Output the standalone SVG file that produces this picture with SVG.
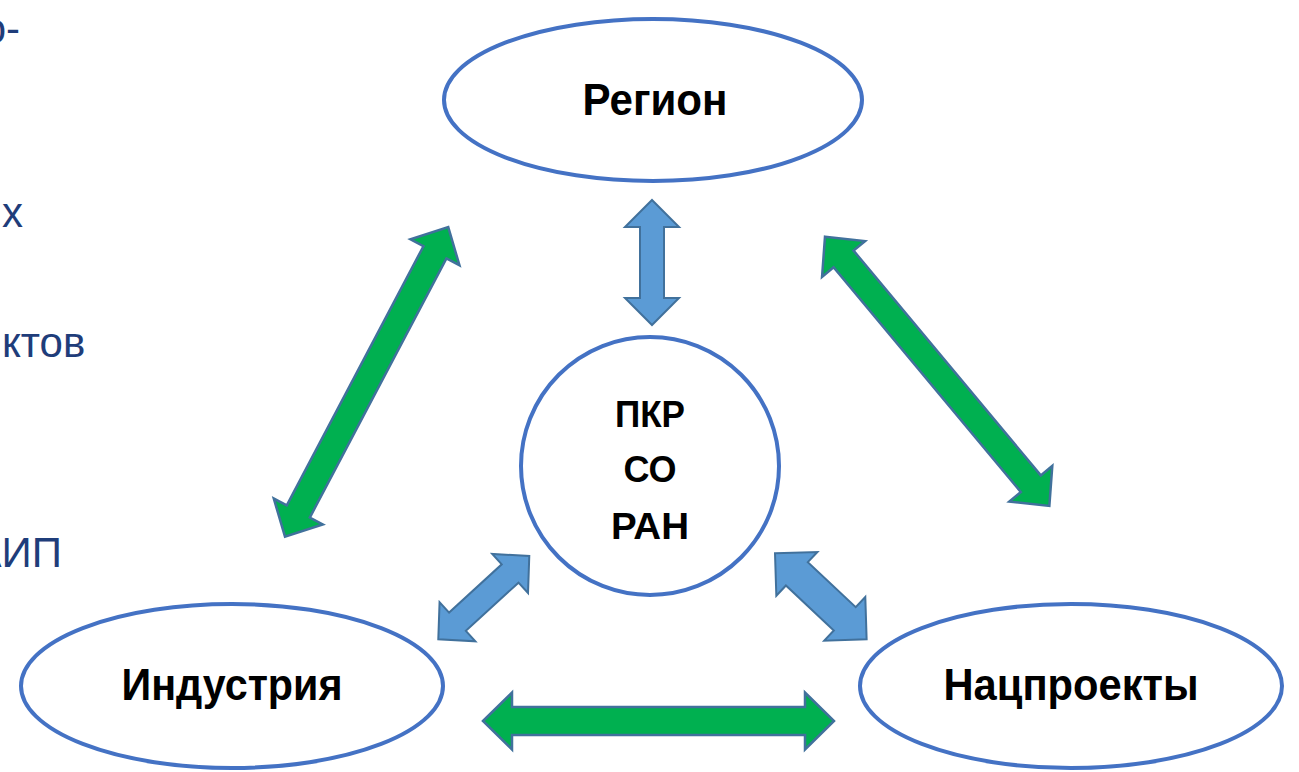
<svg xmlns="http://www.w3.org/2000/svg" width="1299" height="772" viewBox="0 0 1299 772">
<style>
.bg{fill:#ffffff}
.node{fill:#ffffff;stroke:#4472C4;stroke-width:4}
.lbl{font-family:"Liberation Sans",Arial,sans-serif;font-weight:bold;fill:#000000;text-anchor:middle}
.side{font-family:"Liberation Sans",Arial,sans-serif;fill:#1F3D7A;font-size:42px}
.g{fill:#00B050;stroke:#41719C;stroke-width:2.5;stroke-linejoin:miter}
.b{fill:#5B9BD5;stroke:#41719C;stroke-width:2;stroke-linejoin:miter}
</style>
<rect class="bg" x="0" y="0" width="1299" height="772"/>
<g id="side-text">
<text class="side" x="20" y="43" text-anchor="end">о-</text>
<text class="side" x="2" y="227">х</text>
<text class="side" x="2" y="357">ктов</text>
<text class="side" x="62" y="567" text-anchor="end">АИП</text>
</g>
<g id="connectors">
<path class="g" transform="translate(483,721)" d="M0,0 L29,-28.5 L29,-14 L322,-14 L322,-28.5 L351,0 L322,28.5 L322,14 L29,14 L29,28.5 Z"/>
<path class="g" transform="translate(285,536.7) rotate(-62.2)" d="M0,0 L28.5,-27.7 L28.5,-13 L321.5,-13 L321.5,-27.7 L350,0 L321.5,27.7 L321.5,13 L28.5,13 L28.5,27.7 Z"/>
<path class="g" transform="translate(825,236.7) rotate(50.2)" d="M0,0 L29,-28 L29,-13 L321.5,-13 L321.5,-28 L350.5,0 L321.5,28 L321.5,13 L29,13 L29,28 Z"/>
<path class="b" transform="translate(652,200) rotate(90)" d="M0,0 L27,-27 L27,-12 L98,-12 L98,-27 L125,0 L98,27 L98,12 L27,12 L27,27 Z"/>
<path class="b" transform="translate(438.3,639.3) rotate(-42.5)" d="M0,0 L26,-26.5 L26,-12.4 L97.4,-12.4 L97.4,-26.5 L123.4,0 L97.4,26.5 L97.4,12.4 L26,12.4 L26,26.5 Z"/>
<path class="b" transform="translate(775,553.3) rotate(43.2)" d="M0,0 L30,-30 L30,-16 L95.7,-16 L95.7,-30 L125.7,0 L95.7,30 L95.7,16 L30,16 L30,30 Z"/>
</g>
<g id="region">
<ellipse class="node" cx="653" cy="100" rx="209" ry="81"/>
<text class="lbl" x="655" y="115" font-size="44" textLength="145" lengthAdjust="spacingAndGlyphs">Регион</text>
</g>
<g id="pkr">
<circle class="node" cx="650" cy="466" r="129"/>
<text class="lbl" x="650" y="427" font-size="36" textLength="70" lengthAdjust="spacingAndGlyphs">ПКР</text>
<text class="lbl" x="650" y="482" font-size="36">СО</text>
<text class="lbl" x="650" y="539" font-size="36" textLength="78" lengthAdjust="spacingAndGlyphs">РАН</text>
</g>
<g id="industry">
<ellipse class="node" cx="232" cy="686" rx="211" ry="82"/>
<text class="lbl" x="232" y="700" font-size="44" textLength="221" lengthAdjust="spacingAndGlyphs">Индустрия</text>
</g>
<g id="natsproekty">
<ellipse class="node" cx="1071" cy="686" rx="211" ry="82"/>
<text class="lbl" x="1071" y="700" font-size="44" textLength="255" lengthAdjust="spacingAndGlyphs">Нацпроекты</text>
</g>
</svg>
